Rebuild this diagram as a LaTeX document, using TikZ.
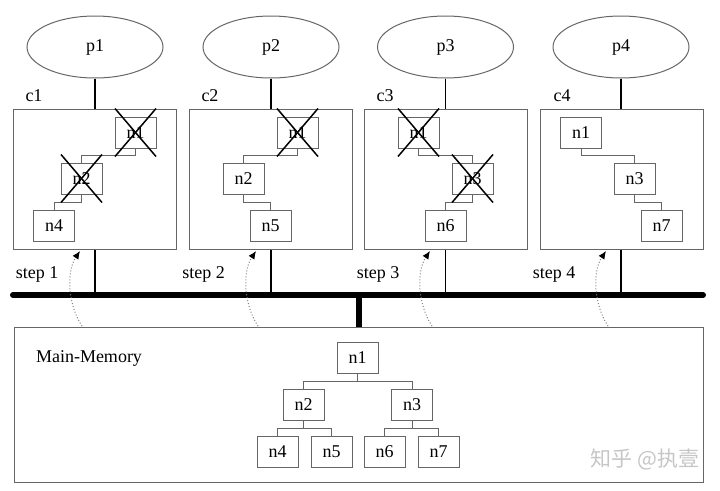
\documentclass[tikz,border=0pt]{standalone}
\usepackage{fontspec}
\setmainfont{Liberation Serif}
\newfontfamily\cjk{Noto Sans CJK SC}
\usetikzlibrary{shapes.geometric,arrows.meta,calc}
\definecolor{boxgray}{HTML}{666666}
\tikzset{
  proc/.style={draw=boxgray,line width=1pt,ellipse,minimum width=136pt,minimum height=62pt,inner sep=0pt,font=\fontsize{18}{20}\selectfont},
  cachebox/.style={draw=boxgray,line width=1pt,rectangle,minimum width=163pt,minimum height=140pt,inner sep=0pt},
  membox/.style={draw=boxgray,line width=1pt,rectangle,minimum width=689pt,minimum height=155pt,inner sep=0pt},
  item/.style={draw=boxgray,line width=0.9pt,rectangle,minimum width=41pt,minimum height=31pt,inner sep=0pt,font=\fontsize{18}{20}\selectfont},
  lbl/.style={inner sep=0pt,font=\fontsize{18}{20}\selectfont},
  tree/.style={draw=boxgray,line width=0.9pt},
  link/.style={draw=black,line width=1.8pt},
  bus/.style={draw=black,line width=6pt,line cap=round},
  xline/.style={draw=black,line width=1.5pt},
  fetch/.style={draw=gray,dotted,line width=1pt,-{Latex[length=8pt,width=7pt,color=black]}}
}
\newcommand{\crossout}[1]{%
  \draw[xline] ([shift={(-20.5,24)}]#1.center) -- ([shift={(20.5,-24)}]#1.center);
  \draw[xline] ([shift={(-20.5,-24)}]#1.center) -- ([shift={(20.5,24)}]#1.center);}
\newcommand{\treelink}[2]{%
  \draw[tree] (#1.south) |- ($(#1.south)!0.5!(#2.north)$) -| (#2.north);}
\begin{document}
\begin{tikzpicture}[x=1pt,y=-1pt]
\useasboundingbox (0,0) rectangle (720,490);
% processors
\node[proc] (p1) at (95,47) {p1};
\node[proc] (p2) at (271,47) {p2};
\node[proc] (p3) at (445.5,47) {p3};
\node[proc] (p4) at (621,47) {p4};
% caches
\node[cachebox] (c1) at (95,179) {};
\node[cachebox] (c2) at (270.5,179) {};
\node[cachebox] (c3) at (445.5,179) {};
\node[cachebox] (c4) at (621.5,179) {};
\node[lbl] (lc1) at (34,96) {c1};
\node[lbl] (lc2) at (210,96) {c2};
\node[lbl] (lc3) at (385,96) {c3};
\node[lbl] (lc4) at (562,96) {c4};
% memory
\node[membox] (mem) at (358.5,404.5) {};
\node[lbl] (mml) at (89,358) {Main-Memory};
% bus
\coordinate (busL) at (13,295);
\coordinate (busR) at (703,295);
\draw[bus] (busL) -- (busR);
\draw[bus,line cap=butt] (mem.north) -- (mem.north |- busL);
\foreach \i in {1,2,3,4}{
  \draw[link] (p\i.south) -- (p\i.south |- c\i.north);
  \draw[link] (p\i.south |- c\i.south) -- (p\i.south |- busL);
}
% cache 1
\node[item] (a1) at (135.5,132.5) {n1};
\node[item] (a2) at (81.5,178.5) {n2};
\node[item] (a4) at (54,226) {n4};
\treelink{a1}{a2}
\treelink{a2}{a4}
\crossout{a1}
\crossout{a2}
% cache 2
\node[item] (b1) at (297.5,132.5) {n1};
\node[item] (b2) at (243.5,178.5) {n2};
\node[item] (b5) at (270.5,226) {n5};
\treelink{b1}{b2}
\treelink{b2}{b5}
\crossout{b1}
% cache 3
\node[item] (d1) at (418.5,132.5) {n1};
\node[item] (d3) at (472.5,178.5) {n3};
\node[item] (d6) at (445.5,226) {n6};
\treelink{d1}{d3}
\treelink{d3}{d6}
\crossout{d1}
\crossout{d3}
% cache 4
\node[item] (e1) at (581,132.5) {n1};
\node[item] (e3) at (634.5,178.5) {n3};
\node[item] (e7) at (661.5,226) {n7};
\treelink{e1}{e3}
\treelink{e3}{e7}
% memory tree
\node[item] (m1) at (357.5,358) {n1};
\node[item] (m2) at (303.5,405) {n2};
\node[item] (m3) at (412,405) {n3};
\node[item] (m4) at (277.5,451.5) {n4};
\node[item] (m5) at (331.5,451.5) {n5};
\node[item] (m6) at (384.5,451.5) {n6};
\node[item] (m7) at (438.5,451.5) {n7};
\treelink{m1}{m2}
\treelink{m1}{m3}
\treelink{m2}{m4}
\treelink{m2}{m5}
\treelink{m3}{m6}
\treelink{m3}{m7}
% steps
\node[lbl] (s1) at (37,274) {step 1};
\node[lbl] (s2) at (203.5,274) {step 2};
\node[lbl] (s3) at (378,274) {step 3};
\node[lbl] (s4) at (554,274) {step 4};
\coordinate (f1a) at (82,326); \coordinate (f1b) at (80,251);
\coordinate (f2a) at (258,326); \coordinate (f2b) at (256,251);
\coordinate (f3a) at (432,326); \coordinate (f3b) at (430,251);
\coordinate (f4a) at (608,326); \coordinate (f4b) at (606,251);
\draw[fetch] (f1a) .. controls (68,305) and (66,272) .. (f1b);
\draw[fetch] (f2a) .. controls (244,305) and (242,272) .. (f2b);
\draw[fetch] (f3a) .. controls (418,305) and (416,272) .. (f3b);
\draw[fetch] (f4a) .. controls (594,305) and (592,272) .. (f4b);
% watermark
\node[inner sep=0pt,text=gray!45,font=\cjk\fontsize{21}{23}\selectfont] (wm) at (645,459) {知乎 @执壹};
\end{tikzpicture}
\end{document}
